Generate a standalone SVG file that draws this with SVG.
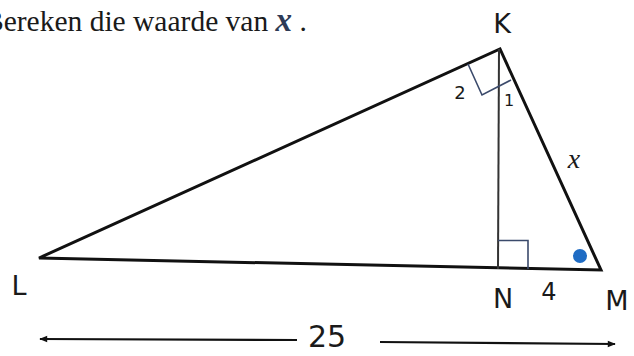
<svg xmlns="http://www.w3.org/2000/svg" width="634" height="356" viewBox="0 0 634 356">
<style>
.side{fill:none;stroke:#111;stroke-width:3;stroke-linejoin:miter}
.alt{fill:none;stroke:#333;stroke-width:2}
.ra{fill:none;stroke:#3b4a6b;stroke-width:1.6}
.lbl{font-family:"DejaVu Sans","Liberation Sans",sans-serif;fill:#1a1a1a;text-anchor:middle}
.dim{stroke:#111;stroke-width:2.2;fill:none}
</style>
<defs>
<marker id="ah" viewBox="0 0 10 10" refX="9" refY="5" markerWidth="10" markerHeight="8" orient="auto-start-reverse" markerUnits="userSpaceOnUse">
<path d="M0,1 L10,5 L0,9 z" fill="#111"/>
</marker>
</defs>
<rect width="634" height="356" fill="#fff"/>
<text x="-16" y="31" font-family="Liberation Serif,serif" font-size="29.5" fill="#1a1a1a">Bereken die waarde van <tspan font-weight="bold" font-style="italic" font-size="33" fill="#2e3b57">x</tspan> .</text>
<g id="triangle">
<polygon class="side" points="39,258 500,49 601,270"/>
</g>
<g id="altitude">
<line class="alt" x1="499" y1="49" x2="498" y2="269"/>
</g>
<g id="rightangles">
<polyline class="ra" points="498,240.5 528,240.5 528,269"/>
<polyline class="ra" points="468,64 482,95 511,80"/>
</g>
<g id="angleM">
<circle cx="580" cy="256" r="7" fill="#1f6cc4"/>
</g>
<g id="labels">
<text class="lbl" x="502" y="33" font-size="27">K</text>
<text class="lbl" x="19" y="295" font-size="27">L</text>
<text class="lbl" x="503" y="308" font-size="27">N</text>
<text class="lbl" x="617" y="310" font-size="27">M</text>
<text class="lbl" x="549" y="300" font-size="24">4</text>
<text class="lbl" x="460" y="99" font-size="18">2</text>
<text class="lbl" x="509" y="106" font-size="16">1</text>
<text x="574" y="168" font-family="Liberation Serif,serif" font-style="italic" font-size="28" fill="#1a1a1a" text-anchor="middle">x</text>
<text class="lbl" x="327" y="347" font-size="30">25</text>
</g>
<g id="connectors">
<line class="dim" x1="297" y1="340" x2="40" y2="339" marker-end="url(#ah)"/>
<line class="dim" x1="380" y1="342" x2="615" y2="344" marker-end="url(#ah)"/>
</g>
</svg>
